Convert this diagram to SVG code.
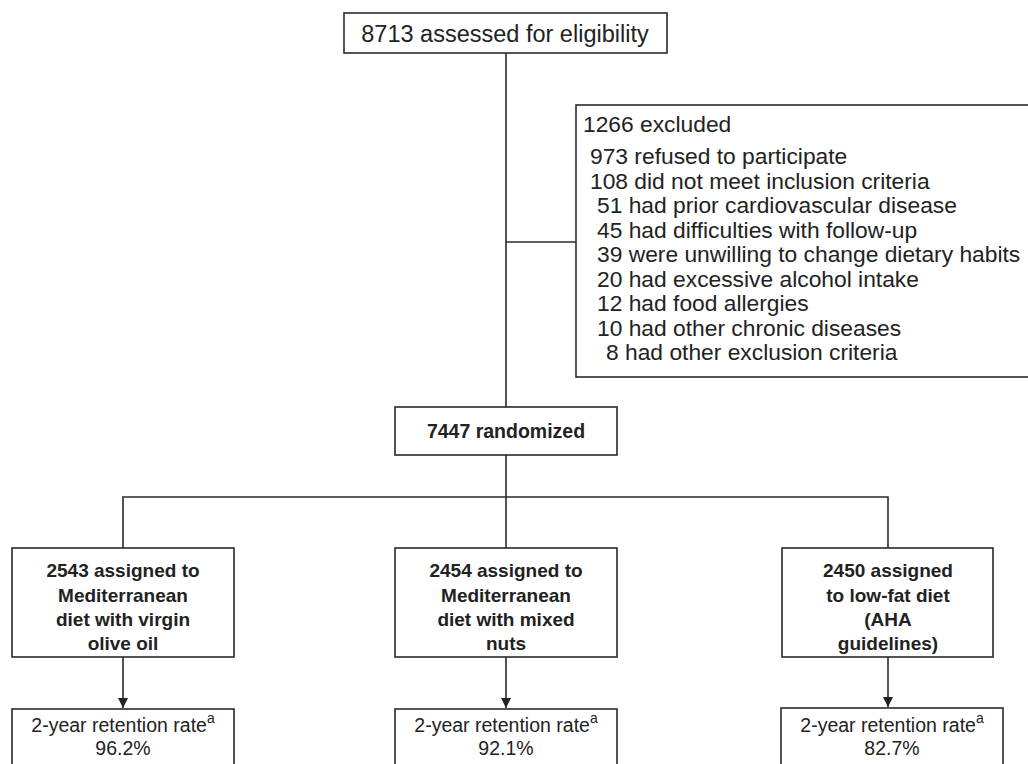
<svg xmlns="http://www.w3.org/2000/svg" width="1028" height="764" viewBox="0 0 1028 764">
<defs>
<style>
.box{fill:#fff;stroke:#2a2a2a;stroke-width:1.6}
.ln{fill:none;stroke:#2a2a2a;stroke-width:1.6}
.t{font-family:"Liberation Sans",Arial,Helvetica,sans-serif;fill:#222}
.r{font-size:22.8px}
.b{font-size:19px;font-weight:bold;text-anchor:middle}
.s{font-size:19.5px;text-anchor:middle}
.c{text-anchor:middle}
.sup{font-size:14px}
</style>
<marker id="ah" viewBox="0 0 10 10" refX="10" refY="5" markerWidth="10" markerHeight="10" markerUnits="userSpaceOnUse" orient="auto">
<path d="M0,0 L10,5 L0,10 Z" fill="#222"/>
</marker>
</defs>
<rect width="1028" height="764" fill="#fff"/>
<g id="connectors">
<path class="ln" d="M506,53 V407"/>
<path class="ln" d="M506,242 H576"/>
<path class="ln" d="M506,455 V497"/>
<path class="ln" d="M123,548 V497 H888 V548"/>
<path class="ln" d="M506,497 V548"/>
<path class="ln" d="M123,657 V708" marker-end="url(#ah)"/>
<path class="ln" d="M506,657 V708" marker-end="url(#ah)"/>
<path class="ln" d="M888,657 V707" marker-end="url(#ah)"/>
</g>
<g id="assessed">
<rect class="box" x="344" y="13" width="323" height="40"/>
<text class="t c" x="505" y="42" style="font-size:23.5px">8713 assessed for eligibility</text>
</g>
<g id="excluded">
<rect class="box" x="576" y="105" width="470" height="272"/>
<text class="t r" x="583" y="132">1266 excluded</text>
<text class="t r" x="590" y="164">973 refused to participate</text>
<text class="t r" x="590" y="189">108 did not meet inclusion criteria</text>
<text class="t r" x="597" y="213">51 had prior cardiovascular disease</text>
<text class="t r" x="597" y="238">45 had difficulties with follow-up</text>
<text class="t r" x="597" y="262">39 were unwilling to change dietary habits</text>
<text class="t r" x="597" y="287">20 had excessive alcohol intake</text>
<text class="t r" x="597" y="311">12 had food allergies</text>
<text class="t r" x="597" y="336">10 had other chronic diseases</text>
<text class="t r" x="606" y="360">8 had other exclusion criteria</text>
</g>
<g id="randomized">
<rect class="box" x="395" y="407" width="222" height="48"/>
<text class="t b" x="506" y="438" style="font-size:19.5px">7447 randomized</text>
</g>
<g id="group-olive">
<rect class="box" x="12" y="548" width="222" height="109"/>
<text class="t b" x="123" y="577">2543 assigned to</text>
<text class="t b" x="123" y="602">Mediterranean</text>
<text class="t b" x="123" y="626">diet with virgin</text>
<text class="t b" x="123" y="650">olive oil</text>
</g>
<g id="group-nuts">
<rect class="box" x="395" y="548" width="222" height="109"/>
<text class="t b" x="506" y="577">2454 assigned to</text>
<text class="t b" x="506" y="602">Mediterranean</text>
<text class="t b" x="506" y="626">diet with mixed</text>
<text class="t b" x="506" y="650">nuts</text>
</g>
<g id="group-lowfat">
<rect class="box" x="782" y="548" width="211" height="109"/>
<text class="t b" x="888" y="577">2450 assigned</text>
<text class="t b" x="888" y="602">to low-fat diet</text>
<text class="t b" x="888" y="626">(AHA</text>
<text class="t b" x="888" y="650">guidelines)</text>
</g>
<g id="retention-olive">
<rect class="box" x="12" y="709" width="222" height="70"/>
<text class="t s" x="123" y="732">2-year retention rate<tspan class="sup" dy="-9">a</tspan></text>
<text class="t s" x="123" y="755">96.2%</text>
</g>
<g id="retention-nuts">
<rect class="box" x="395" y="709" width="222" height="70"/>
<text class="t s" x="506" y="732">2-year retention rate<tspan class="sup" dy="-9">a</tspan></text>
<text class="t s" x="506" y="755">92.1%</text>
</g>
<g id="retention-lowfat">
<rect class="box" x="781" y="708" width="222" height="70"/>
<text class="t s" x="892" y="732">2-year retention rate<tspan class="sup" dy="-9">a</tspan></text>
<text class="t s" x="892" y="755">82.7%</text>
</g>
</svg>
